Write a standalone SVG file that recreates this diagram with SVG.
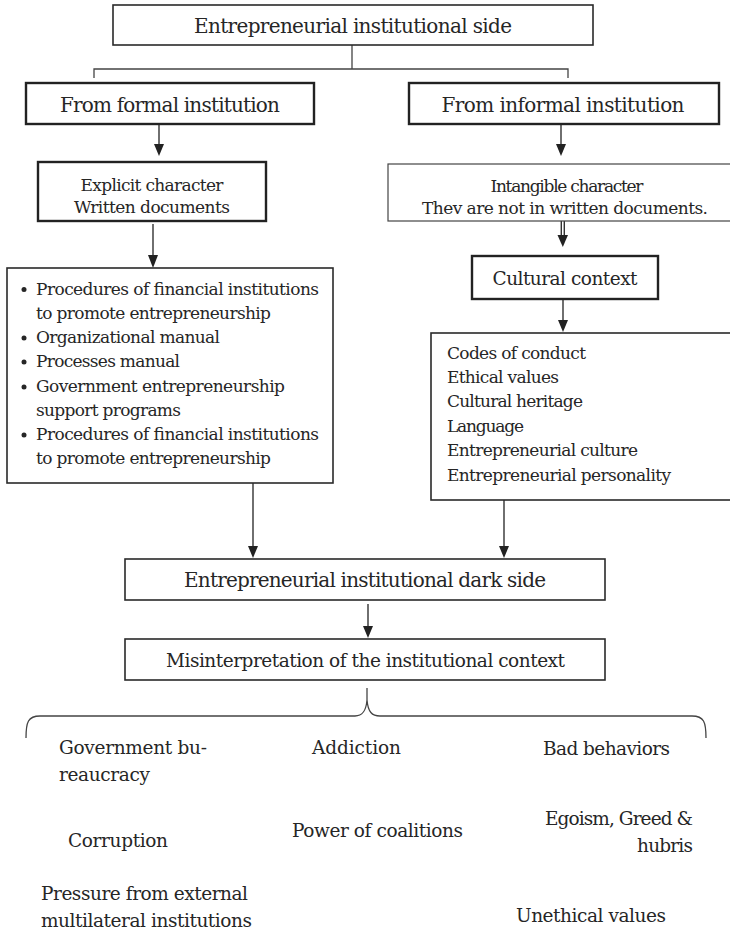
<svg xmlns="http://www.w3.org/2000/svg" width="730" height="933" viewBox="0 0 730 933">
<style>
  text { font-family: "DejaVu Serif", "Liberation Serif", serif; fill: #262626; }
  .h { font-size: 20px; }
  .b { font-size: 17px; }
  .f { font-size: 18.5px; }
  .mid { text-anchor: middle; }
  .box { fill: #fff; stroke: #2a2a2a; stroke-width: 1.6; }
  .thick { fill: #fff; stroke: #222; stroke-width: 2.4; }
  .thin { fill: #fff; stroke: #444; stroke-width: 1.2; }
  .ln { fill: none; stroke: #444; stroke-width: 1.3; }
  .ar { fill: none; stroke: #333; stroke-width: 1.4; }
  .dot { fill: #262626; }
</style>
<rect width="730" height="933" fill="#fff"/>

<g id="connectors">
  <path class="ln" d="M352,45 V69 M94,78 V69 H568 V78"/>
  <line class="ar" x1="159" y1="124" x2="159" y2="145"/>
  <path d="M154,144 H164 L159,156 Z" fill="#222"/>
  <line class="ar" x1="561" y1="124" x2="561" y2="145"/>
  <path d="M556,144 H566 L561,156 Z" fill="#222"/>
  <line class="ar" x1="153" y1="224" x2="153" y2="256"/>
  <path d="M148,255 H158 L153,268 Z" fill="#222"/>
  <line class="ar" x1="561.3" y1="221" x2="561.3" y2="236" stroke-width="1.2"/>
  <line class="ar" x1="564.3" y1="221" x2="564.3" y2="236" stroke-width="1.2"/>
  <path d="M557.5,235 H568 L562.8,247 Z" fill="#222"/>
  <line class="ar" x1="563" y1="299" x2="563" y2="321"/>
  <path d="M558,320 H568 L563,332 Z" fill="#222"/>
  <line class="ar" x1="253" y1="483" x2="253" y2="547"/>
  <path d="M248,546 H258 L253,558 Z" fill="#222"/>
  <line class="ar" x1="504" y1="500" x2="504" y2="547"/>
  <path d="M499,546 H509 L504,558 Z" fill="#222"/>
  <line class="ar" x1="368" y1="604" x2="368" y2="627"/>
  <path d="M363,626 H373 L368,638 Z" fill="#222"/>
  <path class="ln" d="M367,688 V700"/>
  <path class="ln" d="M26,738 C26,722 28,716 40,716 L355,716 C362,716 366,712 367,700 C368,712 372,716 380,716 L692,716 C704,716 706,722 706,738"/>
</g>

<g id="top">
  <rect class="box" x="113" y="5" width="480" height="40"/>
  <text class="h mid" x="353" y="33" textLength="318">Entrepreneurial institutional side</text>
</g>

<g id="formal">
  <rect class="thick" x="26" y="83" width="288" height="41"/>
  <text class="h mid" x="170" y="112" font-size="20.5" textLength="220">From formal institution</text>
</g>

<g id="informal">
  <rect class="thick" x="409" y="83" width="310" height="41"/>
  <text class="h mid" x="563" y="112" font-size="20.5" textLength="243">From informal institution</text>
</g>

<g id="explicit">
  <rect class="thick" x="38" y="162" width="228" height="59"/>
  <text class="b mid" x="152" y="191" textLength="143">Explicit character</text>
  <text class="b mid" x="152" y="213" textLength="156">Written documents</text>
</g>

<g id="intangible">
  <rect class="thin" x="388" y="164" width="350" height="57"/>
  <text class="b mid" x="567" y="192" textLength="153">Intangible character</text>
  <text class="b mid" x="565" y="214" textLength="286">Thev are not in written documents.</text>
</g>

<g id="cultural">
  <rect class="thick" x="472" y="256" width="186" height="43"/>
  <text class="mid" x="565" y="285" font-size="18.5" textLength="145">Cultural context</text>
</g>

<g id="formal-list">
  <rect class="box" x="7" y="268" width="326" height="215"/>
  <g class="b">
    <circle class="dot" cx="24" cy="289.5" r="2.5"/>
    <text x="36" y="295" textLength="283">Procedures of financial institutions</text>
    <text x="36" y="319" textLength="235">to promote entrepreneurship</text>
    <circle class="dot" cx="24" cy="338" r="2.5"/>
    <text x="36" y="343" textLength="184">Organizational manual</text>
    <circle class="dot" cx="24" cy="362" r="2.5"/>
    <text x="36" y="367" textLength="144">Processes manual</text>
    <circle class="dot" cx="24" cy="387" r="2.5"/>
    <text x="36" y="392" textLength="249">Government entrepreneurship</text>
    <text x="36" y="416" textLength="145">support programs</text>
    <circle class="dot" cx="24" cy="435" r="2.5"/>
    <text x="36" y="440" textLength="283">Procedures of financial institutions</text>
    <text x="36" y="464" textLength="235">to promote entrepreneurship</text>
  </g>
</g>

<g id="informal-list">
  <rect class="box" x="431" y="333" width="310" height="167"/>
  <g class="b">
    <text x="447" y="359" textLength="139">Codes of conduct</text>
    <text x="447" y="383" textLength="112">Ethical values</text>
    <text x="447" y="407" textLength="136">Cultural heritage</text>
    <text x="447" y="432" textLength="77">Language</text>
    <text x="447" y="456" textLength="191">Entrepreneurial culture</text>
    <text x="447" y="481" textLength="224">Entrepreneurial personality</text>
  </g>
</g>

<g id="dark-side">
  <rect class="box" x="125" y="559" width="480" height="41"/>
  <text class="h mid" x="365" y="587" textLength="362">Entrepreneurial institutional dark side</text>
</g>

<g id="misinterpretation">
  <rect class="box" x="125" y="639" width="480" height="41"/>
  <text class="mid" x="365.5" y="667" font-size="18.5" textLength="399">Misinterpretation of the institutional context</text>
</g>

<g id="outcomes" class="f">
  <text x="59" y="754" textLength="148">Government bu-</text>
  <text x="59" y="781" textLength="91">reaucracy</text>
  <text x="312" y="754" textLength="89">Addiction</text>
  <text x="543" y="755" textLength="127">Bad behaviors</text>
  <text x="68" y="847" textLength="100">Corruption</text>
  <text x="292" y="837" textLength="171">Power of coalitions</text>
  <text x="693" y="825" text-anchor="end" textLength="148">Egoism, Greed &amp;</text>
  <text x="693" y="852" text-anchor="end" textLength="56">hubris</text>
  <text x="41" y="900" textLength="207">Pressure from external</text>
  <text x="41" y="927" textLength="211">multilateral institutions</text>
  <text x="516" y="922" textLength="150">Unethical values</text>
</g>
</svg>
